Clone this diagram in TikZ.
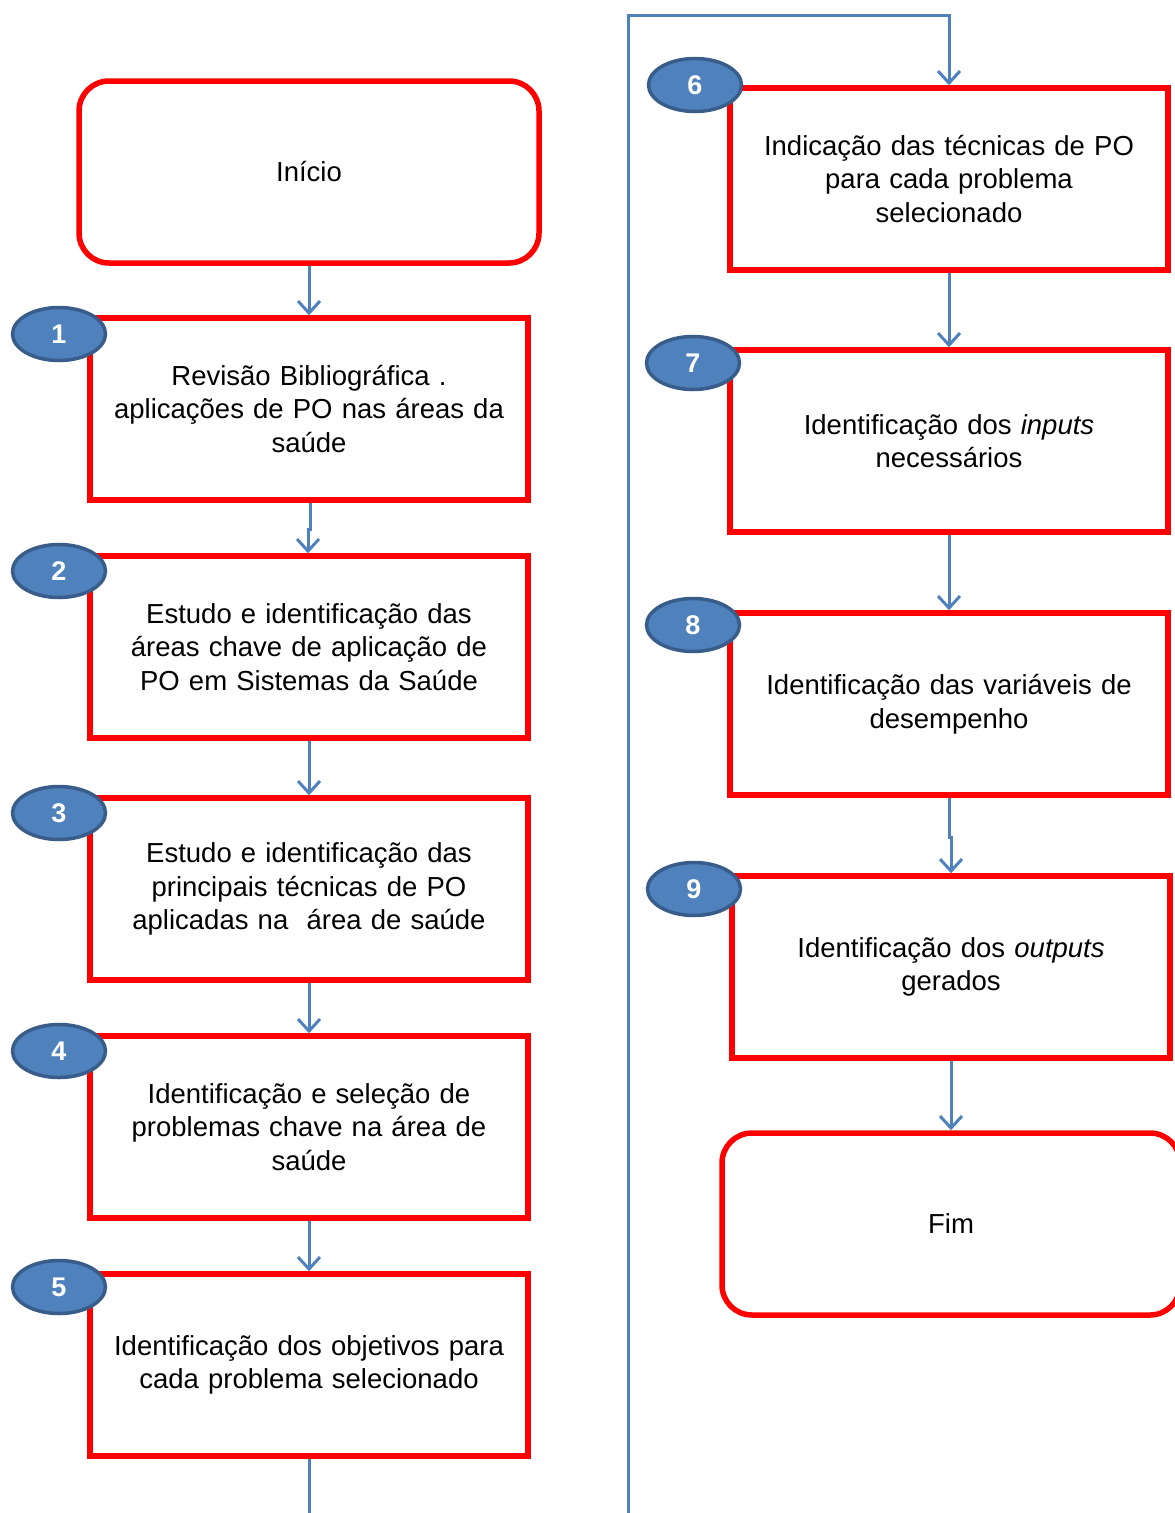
\documentclass[tikz,border=0pt]{standalone}
\usepackage{fontspec}
\setmainfont{Liberation Sans}
\usetikzlibrary{shapes.geometric,arrows.meta}
\definecolor{flowblue}{HTML}{4F81BD}
\definecolor{badgeedge}{HTML}{385D8A}
\definecolor{boxred}{HTML}{FF0000}
\begin{document}
\begin{tikzpicture}[x=1pt,y=-1pt,
  stepbox/.style={draw=boxred,line width=5.5pt,fill=white,minimum width=438pt,minimum height=182pt,
    text width=430pt,align=center,font=\fontsize{27.5}{33.5}\selectfont,inner sep=0pt},
  termbox/.style={stepbox,rounded corners=30pt},
  badge/.style={ellipse,draw=badgeedge,line width=3.5pt,fill=flowblue,minimum width=93pt,minimum height=53pt,
    inner sep=0pt,text=white,font=\fontsize{27}{30}\selectfont\bfseries},
  flow/.style={draw=flowblue,line width=3pt,-{Straight Barb[length=12pt,width=22pt,line width=3pt]}}]
\useasboundingbox (0,0) rectangle (1175,1513);
\clip (0,0) rectangle (1175,1513);

% left column
\node[termbox,minimum width=460pt] (start) at (309,172) {Início};
\node[stepbox] (b1) at (309,409) {Revisão Bibliográfica .\\aplicações de PO nas áreas da\\saúde};
\node[stepbox] (b2) at (309,647) {Estudo e identificação das\\áreas chave de aplicação de\\PO em Sistemas da Saúde};
\node[stepbox] (b3) at (309,889) {Estudo e identificação das\\principais técnicas de PO\\aplicadas na \ área de saúde};
\node[stepbox] (b4) at (309,1127) {Identificação e seleção de\\problemas chave na área de\\saúde};
\node[stepbox] (b5) at (309,1365) {Identificação dos objetivos para\\cada problema selecionado};

% right column
\node[stepbox] (b6) at (949,179) {Indicação das técnicas de PO\\para cada problema\\selecionado};
\node[stepbox] (b7) at (949,441) {Identificação dos \textit{inputs}\\necessários};
\node[stepbox] (b8) at (949,704) {Identificação das variáveis de\\desempenho};
\node[stepbox] (b9) at (951,967) {Identificação dos \textit{outputs}\\gerados};
\node[termbox,minimum width=458pt] (end) at (951,1224) {Fim};

% connectors
\draw[flow] (start.south) -- (b1.north);
\draw[flow] ([xshift=1pt]b1.south) -- ++(0,27) -| ([xshift=-1pt]b2.north);
\draw[flow] (b2.south) -- (b3.north);
\draw[flow] (b3.south) -- (b4.north);
\draw[flow] (b4.south) -- (b5.north);
\coordinate (lowturn) at (628,1540);
\coordinate (topturn) at (628,15);
\draw[flow] (b5.south) |- (lowturn) -- (topturn) -| (b6.north);
\draw[flow] (b6.south) -- (b7.north);
\draw[flow] (b7.south) -- (b8.north);
\draw[flow] (b8.south) -- ++(0,40) -| (b9.north);
\draw[flow] (b9.south) -- (end.north);

% step numbers
\node[badge] (n1) at (59,334) {1};
\node[badge] (n2) at (59,571) {2};
\node[badge] (n3) at (59,813) {3};
\node[badge] (n4) at (59,1051) {4};
\node[badge] (n5) at (59,1287) {5};
\node[badge] (n6) at (695,85) {6};
\node[badge] (n7) at (693,363) {7};
\node[badge] (n8) at (693,625) {8};
\node[badge] (n9) at (694,889) {9};
\end{tikzpicture}
\end{document}
